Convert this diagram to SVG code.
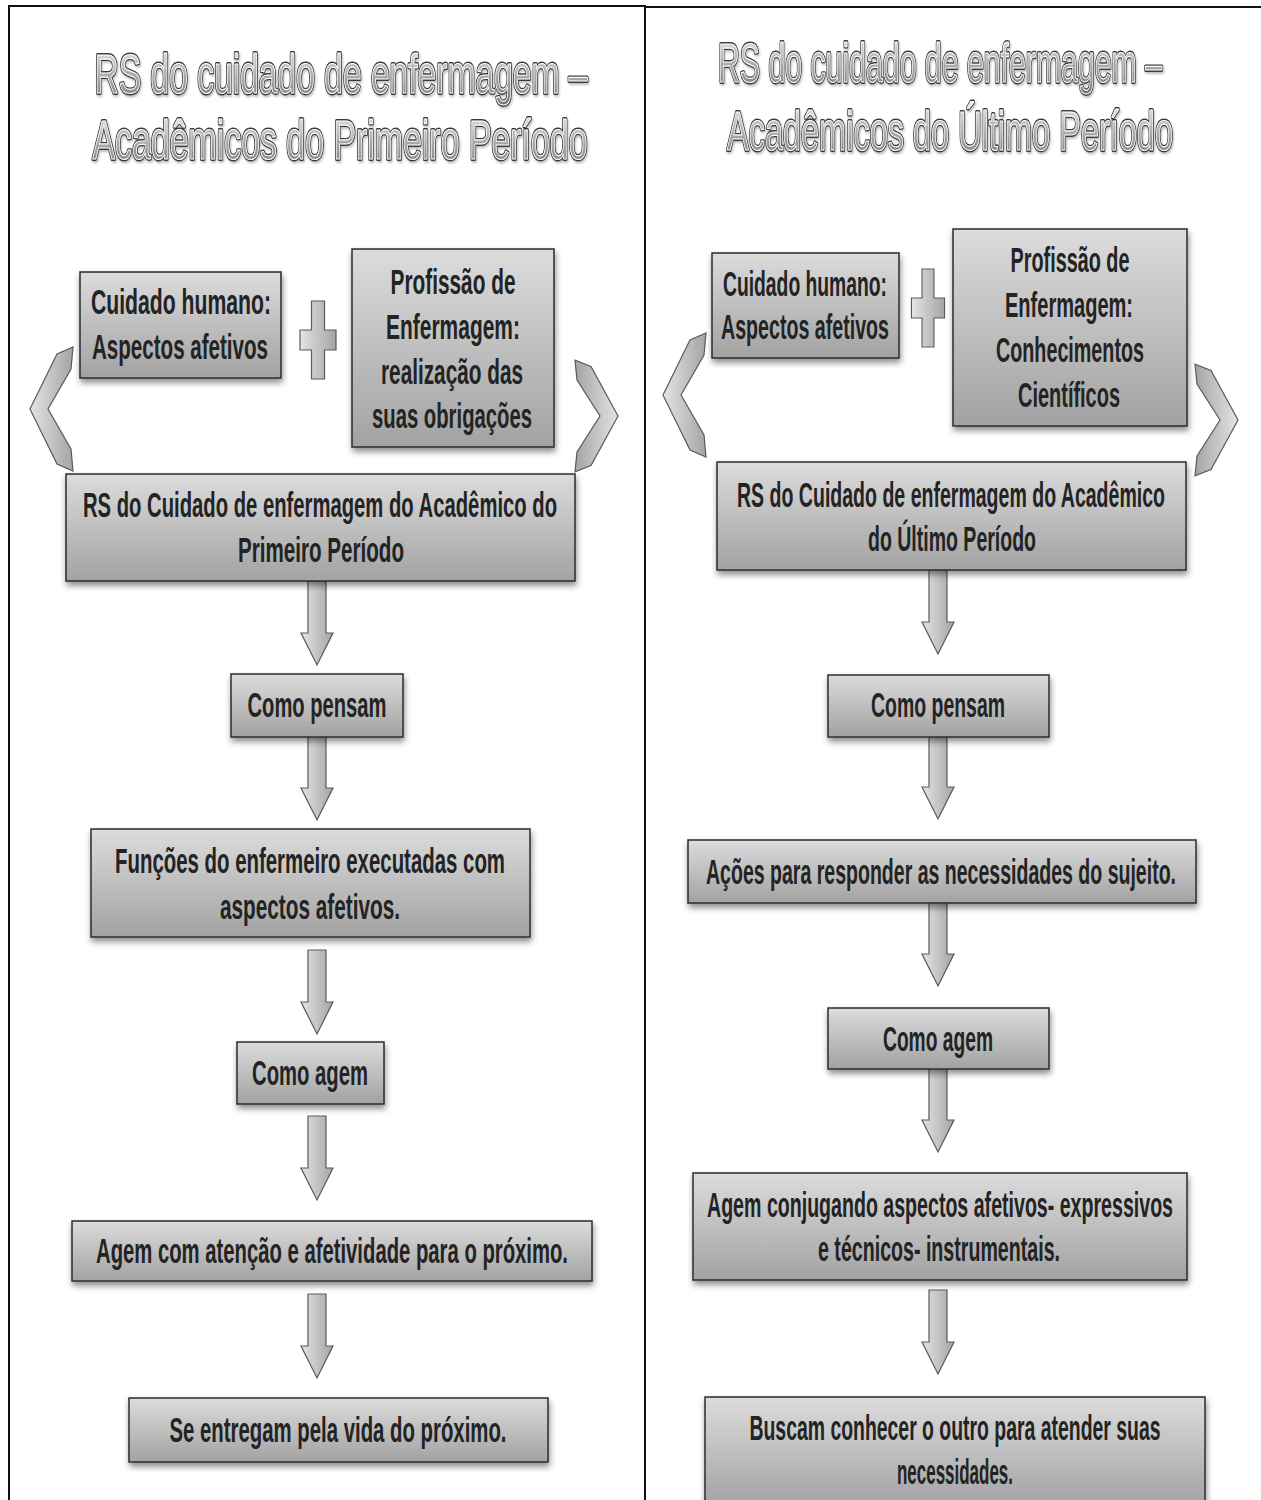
<svg xmlns="http://www.w3.org/2000/svg" xmlns:xlink="http://www.w3.org/1999/xlink" width="1261" height="1500" viewBox="0 0 1261 1500">
  <defs>
    <linearGradient id="boxFill" x1="0" y1="0" x2="0" y2="1">
      <stop offset="0" stop-color="#dcdcdc"/>
      <stop offset="1" stop-color="#a2a2a2"/>
    </linearGradient>
    <linearGradient id="shapeFill" x1="0" y1="0" x2="1" y2="0">
      <stop offset="0" stop-color="#e4e4e4"/>
      <stop offset="1" stop-color="#a4a4a4"/>
    </linearGradient>
    <linearGradient id="titleFill" x1="0" y1="0" x2="0" y2="1">
      <stop offset="0" stop-color="#ececec"/>
      <stop offset="0.55" stop-color="#a8a8a8"/>
      <stop offset="1" stop-color="#767676"/>
    </linearGradient>
    <filter id="shadow" x="-10%" y="-20%" width="120%" height="150%">
      <feDropShadow dx="1" dy="4" stdDeviation="3" flood-color="#000" flood-opacity="0.45"/>
    </filter>
    <filter id="titleShadow" x="-5%" y="-20%" width="110%" height="150%">
      <feDropShadow dx="1" dy="2" stdDeviation="1" flood-color="#000" flood-opacity="0.25"/>
    </filter>
    <!-- down arrow, drawn from its top centre -->
    <path id="down" d="M-9,0 H9 V52 H16 L0,84 L-16,52 H-9 Z"/>
    <!-- chevron pointing left, tip at origin -->
    <path id="chev" d="M0,0 L27,-55 L43,-62 L41,-40 L18,0 L41,40 L43,62 L27,55 Z"/>
    <!-- plus sign centred on origin -->
    <path id="plus" d="M-6.5,-38 H6.5 V-9 H18 V11 H6.5 V40 H-6.5 V11 H-18 V-9 H-6.5 Z"/>
    <style>
      .frame { fill: none; stroke: #111; stroke-width: 2; }
      .box { fill: url(#boxFill); stroke: #2b2b2b; stroke-width: 1.5; filter: url(#shadow); }
      .shape { fill: url(#shapeFill); stroke: #5a5a5a; stroke-width: 1.2; }
      .t { font-family: "Liberation Sans", Arial, sans-serif; font-weight: bold; font-size: 35px; fill: #232323; text-anchor: middle; }
      .title { font-family: "Liberation Sans", Arial, sans-serif; font-size: 55px; text-anchor: middle; }
      .title-edge { fill: none; stroke: #3a3a3a; stroke-width: 3.8; stroke-linejoin: round; }
      .title-face { fill: url(#titleFill); stroke: #ffffff; stroke-width: 1.2; stroke-linejoin: round; }
    </style>
  </defs>

  <!-- panel frames -->
  <g id="frames">
    <path class="frame" d="M9,1500 V6 H645 V1500"/>
    <path class="frame" d="M645,7 H1261"/>
  </g>

  <!-- titles -->
  <g id="title-left" filter="url(#titleShadow)">
    <text class="title title-edge" x="341" y="93" textLength="493" lengthAdjust="spacingAndGlyphs">RS do cuidado de enfermagem –</text>
    <text class="title title-face" x="341" y="93" textLength="493" lengthAdjust="spacingAndGlyphs">RS do cuidado de enfermagem –</text>
    <text class="title title-edge" x="340" y="159" textLength="495" lengthAdjust="spacingAndGlyphs">Acadêmicos do Primeiro Período</text>
    <text class="title title-face" x="340" y="159" textLength="495" lengthAdjust="spacingAndGlyphs">Acadêmicos do Primeiro Período</text>
  </g>
  <g id="title-right" filter="url(#titleShadow)">
    <text class="title title-edge" x="940" y="82" textLength="444" lengthAdjust="spacingAndGlyphs">RS do cuidado de enfermagem –</text>
    <text class="title title-face" x="940" y="82" textLength="444" lengthAdjust="spacingAndGlyphs">RS do cuidado de enfermagem –</text>
    <text class="title title-edge" x="950" y="150" textLength="446" lengthAdjust="spacingAndGlyphs">Acadêmicos do Último Período</text>
    <text class="title title-face" x="950" y="150" textLength="446" lengthAdjust="spacingAndGlyphs">Acadêmicos do Último Período</text>
  </g>

  <!-- connectors: plus signs, chevrons and down arrows -->
  <g id="connectors">
    <use href="#plus" class="shape" transform="translate(318,339)"/>
    <use href="#chev" class="shape" transform="translate(30,409)"/>
    <use href="#chev" class="shape" transform="translate(618,416) scale(-1,0.9)"/>
    <use href="#down" class="shape" transform="translate(317,581)"/>
    <use href="#down" class="shape" transform="translate(317,736)"/>
    <use href="#down" class="shape" transform="translate(317,950)"/>
    <use href="#down" class="shape" transform="translate(317,1116)"/>
    <use href="#down" class="shape" transform="translate(317,1294)"/>

    <use href="#plus" class="shape" transform="translate(928,307) scale(0.92,1)"/>
    <use href="#chev" class="shape" transform="translate(663,395)"/>
    <use href="#chev" class="shape" transform="translate(1238,420) scale(-1,0.9)"/>
    <use href="#down" class="shape" transform="translate(938,570)"/>
    <use href="#down" class="shape" transform="translate(938,735)"/>
    <use href="#down" class="shape" transform="translate(938,902)"/>
    <use href="#down" class="shape" transform="translate(938,1068)"/>
    <use href="#down" class="shape" transform="translate(938,1290)"/>
  </g>

  <!-- left column -->
  <g id="l-cuidado">
    <rect class="box" x="80" y="272" width="201" height="106"/>
    <text class="t" x="181" y="314" textLength="180" lengthAdjust="spacingAndGlyphs">Cuidado humano:</text>
    <text class="t" x="180" y="359" textLength="176" lengthAdjust="spacingAndGlyphs">Aspectos afetivos</text>
  </g>
  <g id="l-profissao">
    <rect class="box" x="352" y="249" width="202" height="198"/>
    <text class="t" x="453" y="294" textLength="125" lengthAdjust="spacingAndGlyphs">Profissão de</text>
    <text class="t" x="453" y="339" textLength="134" lengthAdjust="spacingAndGlyphs">Enfermagem:</text>
    <text class="t" x="452" y="384" textLength="142" lengthAdjust="spacingAndGlyphs">realização das</text>
    <text class="t" x="452" y="428" textLength="160" lengthAdjust="spacingAndGlyphs">suas obrigações</text>
  </g>
  <g id="l-rs">
    <rect class="box" x="66" y="474" width="509" height="107"/>
    <text class="t" x="320" y="517" textLength="474" lengthAdjust="spacingAndGlyphs">RS do Cuidado de enfermagem do Acadêmico do</text>
    <text class="t" x="321" y="562" textLength="166" lengthAdjust="spacingAndGlyphs">Primeiro Período</text>
  </g>
  <g id="l-pensam">
    <rect class="box" x="231" y="674" width="172" height="63"/>
    <text class="t" x="317" y="717" textLength="139" lengthAdjust="spacingAndGlyphs">Como pensam</text>
  </g>
  <g id="l-funcoes">
    <rect class="box" x="91" y="829" width="439" height="108"/>
    <text class="t" x="310" y="873" textLength="390" lengthAdjust="spacingAndGlyphs">Funções do enfermeiro executadas com</text>
    <text class="t" x="310" y="919" textLength="180" lengthAdjust="spacingAndGlyphs">aspectos afetivos.</text>
  </g>
  <g id="l-agem">
    <rect class="box" x="237" y="1042" width="147" height="62"/>
    <text class="t" x="310" y="1085" textLength="116" lengthAdjust="spacingAndGlyphs">Como agem</text>
  </g>
  <g id="l-atencao">
    <rect class="box" x="72" y="1221" width="520" height="60"/>
    <text class="t" x="332" y="1263" textLength="472" lengthAdjust="spacingAndGlyphs">Agem com atenção e afetividade para o próximo.</text>
  </g>
  <g id="l-entregam">
    <rect class="box" x="129" y="1398" width="419" height="64"/>
    <text class="t" x="338" y="1442" textLength="337" lengthAdjust="spacingAndGlyphs">Se entregam pela vida do próximo.</text>
  </g>

  <!-- right column -->
  <g id="r-cuidado">
    <rect class="box" x="712" y="253" width="187" height="105"/>
    <text class="t" x="805" y="296" textLength="164" lengthAdjust="spacingAndGlyphs">Cuidado humano:</text>
    <text class="t" x="805" y="339" textLength="168" lengthAdjust="spacingAndGlyphs">Aspectos afetivos</text>
  </g>
  <g id="r-profissao">
    <rect class="box" x="953" y="229" width="234" height="197"/>
    <text class="t" x="1070" y="272" textLength="119" lengthAdjust="spacingAndGlyphs">Profissão de</text>
    <text class="t" x="1069" y="317" textLength="128" lengthAdjust="spacingAndGlyphs">Enfermagem:</text>
    <text class="t" x="1070" y="362" textLength="148" lengthAdjust="spacingAndGlyphs">Conhecimentos</text>
    <text class="t" x="1069" y="407" textLength="102" lengthAdjust="spacingAndGlyphs">Científicos</text>
  </g>
  <g id="r-rs">
    <rect class="box" x="717" y="462" width="469" height="108"/>
    <text class="t" x="951" y="507" textLength="428" lengthAdjust="spacingAndGlyphs">RS do Cuidado de enfermagem do Acadêmico</text>
    <text class="t" x="952" y="551" textLength="168" lengthAdjust="spacingAndGlyphs">do Último Período</text>
  </g>
  <g id="r-pensam">
    <rect class="box" x="828" y="675" width="221" height="62"/>
    <text class="t" x="938" y="717" textLength="134" lengthAdjust="spacingAndGlyphs">Como pensam</text>
  </g>
  <g id="r-acoes">
    <rect class="box" x="688" y="840" width="508" height="63"/>
    <text class="t" x="941" y="884" textLength="470" lengthAdjust="spacingAndGlyphs">Ações para responder as necessidades do sujeito.</text>
  </g>
  <g id="r-agem">
    <rect class="box" x="828" y="1008" width="221" height="61"/>
    <text class="t" x="938" y="1051" textLength="110" lengthAdjust="spacingAndGlyphs">Como agem</text>
  </g>
  <g id="r-conjugando">
    <rect class="box" x="693" y="1173" width="494" height="107"/>
    <text class="t" x="940" y="1217" textLength="466" lengthAdjust="spacingAndGlyphs">Agem conjugando aspectos afetivos- expressivos</text>
    <text class="t" x="939" y="1261" textLength="242" lengthAdjust="spacingAndGlyphs">e técnicos- instrumentais.</text>
  </g>
  <g id="r-buscam">
    <rect class="box" x="705" y="1397" width="500" height="110"/>
    <text class="t" x="955" y="1440" textLength="411" lengthAdjust="spacingAndGlyphs">Buscam conhecer o outro para atender suas</text>
    <text class="t" x="955" y="1484" textLength="116" lengthAdjust="spacingAndGlyphs">necessidades.</text>
  </g>
</svg>
